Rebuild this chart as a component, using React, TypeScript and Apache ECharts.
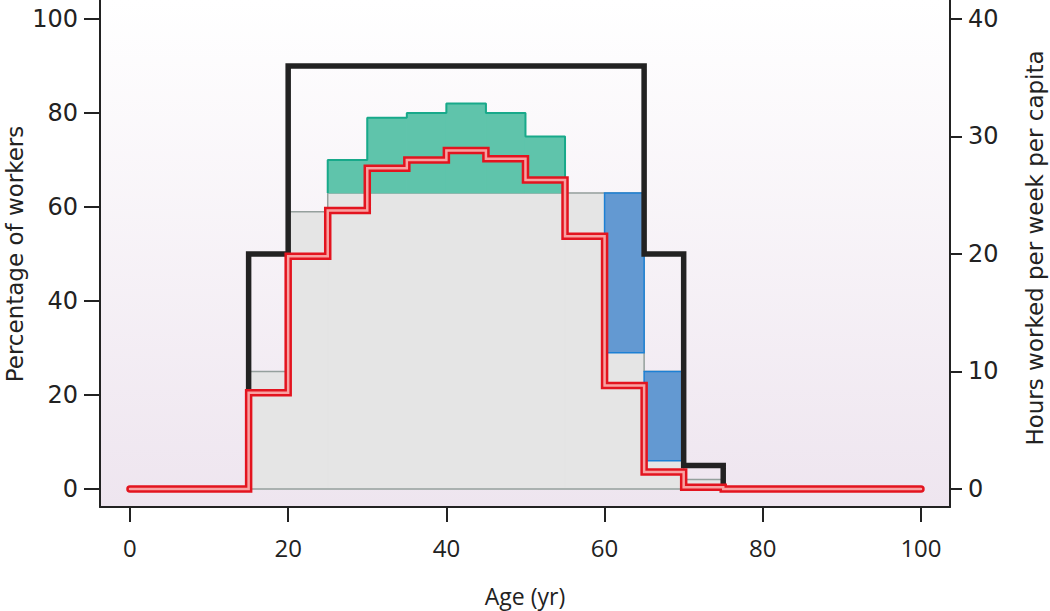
import React, { useEffect, useRef } from "react";
import * as echarts from "echarts";

// ---- data ----
const binEdges = [15, 20, 25, 30, 35, 40, 45, 50, 55, 60, 65, 70, 75];
// grey baseline (percentage of workers) per 5-year bin from 15 to 75
const greyTop = [25, 59, 63, 63, 63, 63, 63, 63, 63, 63, 25, 2];
// green band (increase) bins 25-55
const greenEdges = [25, 30, 35, 40, 45, 50, 55];
const greenBottom = 63;
const greenTop = [70, 79, 80, 82, 80, 75];
// blue band (reduction) bins
const blueEdges = [60, 65, 70];
const blueLow = [29, 6];
const blueHigh = [63, 25];
// black line: percentage of workers
const blackVals = [50, 90, 90, 90, 90, 90, 90, 90, 90, 90, 50, 5];
// red line: hours worked per week per capita, 5-year bins from 0 to 100
const redEdges = [0, 5, 10, 15, 20, 25, 30, 35, 40, 45, 50, 55, 60, 65, 70, 75, 80, 85, 90, 95, 100];
const redHours = [0, 0, 0, 8.2, 19.8, 23.7, 27.3, 28, 28.8, 28.1, 26.3, 21.5, 8.8, 1.45, 0.15, 0, 0, 0, 0, 0];
const xTicks = [0, 20, 40, 60, 80, 100];
const leftTicks = [0, 20, 40, 60, 80, 100];
const rightTicks = [0, 10, 20, 30, 40];

function stepPoints(edges: number[], vals: number[], startFromZero: boolean, endAtZero: boolean) {
  const pts: number[][] = [];
  if (startFromZero) pts.push([edges[0], 0]);
  for (let i = 0; i < vals.length; i++) {
    pts.push([edges[i], vals[i]]);
    pts.push([edges[i + 1], vals[i]]);
  }
  if (endAtZero) pts.push([edges[edges.length - 1], 0]);
  return pts;
}

function bandRenderer(fill: string, stroke: string, lw: number) {
  return (params: any, api: any) => {
    const p0 = api.coord([api.value(0), api.value(3)]);
    const p1 = api.coord([api.value(1), api.value(2)]);
    return {
      type: "rect",
      shape: { x: p0[0], y: p0[1], width: p1[0] - p0[0], height: p1[1] - p0[1] },
      style: { fill, stroke, lineWidth: lw },
    };
  };
}

export default function App() {
  const ref = useRef<HTMLDivElement>(null);
  useEffect(() => {
    if (!ref.current) return;
    const chart = echarts.init(ref.current, null, { renderer: "svg" });

    const greyRects = greyTop.map((v, i) => [binEdges[i], binEdges[i + 1], 0, v]);
    const greenRects = greenTop.map((v, i) => [greenEdges[i], greenEdges[i + 1], greenBottom, v]);
    const blueRects = blueLow.map((v, i) => [blueEdges[i], blueEdges[i + 1], v, blueHigh[i]]);

    const greyOutline = stepPoints(binEdges, greyTop, true, true);
    greyOutline.push([binEdges[0], 0]);
    const greenOutline = stepPoints(greenEdges, greenTop, false, false);
    greenOutline.unshift([greenEdges[0], greenBottom]);
    greenOutline.push([greenEdges[greenEdges.length - 1], greenBottom]);
    const blackLine = stepPoints(binEdges, blackVals, true, true);
    const redLine = stepPoints(redEdges, redHours, false, false);

    const wideFont = "'DejaVu Sans', 'Open Sans', sans-serif";
    const narrowFont = "'Open Sans', 'Noto Sans', sans-serif";
    const axisLine = { show: true, onZero: false, lineStyle: { color: "#222", width: 2 } };

    chart.setOption({
      animation: false,
      grid: {
        left: 100,
        right: 100,
        top: 0,
        bottom: 104,
        show: true,
        borderWidth: 0,
        backgroundColor: new echarts.graphic.LinearGradient(0, 0, 0, 1, [
          { offset: 0, color: "#ffffff" },
          { offset: 1, color: "#eee5ef" },
        ]),
      },
      xAxis: {
        type: "value",
        min: -3.79,
        max: 103.67,
        axisLine,
        axisTick: { show: true, length: 15, lineStyle: { color: "#222", width: 2 }, customValues: xTicks },
        axisLabel: { customValues: xTicks, fontSize: 24, color: "#222", margin: 28, fontFamily: narrowFont },
        splitLine: { show: false },
      },
      yAxis: [
        {
          type: "value",
          min: -3.83,
          max: 104.04,
          axisLine,
          axisTick: { show: true, length: 16, lineStyle: { color: "#222", width: 2 }, customValues: leftTicks },
          axisLabel: { customValues: leftTicks, fontSize: 24, color: "#222", margin: 22, fontFamily: wideFont },
          splitLine: { show: false },
        },
        {
          type: "value",
          position: "right",
          min: -3.83 / 2.5,
          max: 104.04 / 2.5,
          axisLine,
          axisTick: { show: true, length: 12, lineStyle: { color: "#222", width: 2 }, customValues: rightTicks },
          axisLabel: { customValues: rightTicks, fontSize: 24, color: "#222", margin: 18, fontFamily: wideFont },
          splitLine: { show: false },
        },
      ],
      graphic: [
        {
          type: "text",
          x: 15,
          y: 254,
          rotation: Math.PI / 2,
          style: {
            text: "Percentage of workers",
            fontSize: 23,
            fontFamily: wideFont,
            fill: "#222",
            textAlign: "center",
            textVerticalAlign: "middle",
          },
        },
        {
          type: "text",
          x: 1035,
          y: 248,
          rotation: Math.PI / 2,
          style: {
            text: "Hours worked per week per capita",
            fontSize: 23,
            fontFamily: wideFont,
            fill: "#222",
            textAlign: "center",
            textVerticalAlign: "middle",
          },
        },
        {
          type: "text",
          x: 525,
          y: 596,
          style: {
            text: "Age (yr)",
            fontSize: 23,
            fontFamily: narrowFont,
            fill: "#222",
            textAlign: "center",
            textVerticalAlign: "middle",
          },
        },
      ],
      series: [
        {
          type: "custom",
          name: "grey",
          z: 1,
          encode: { x: [0, 1], y: [2, 3] },
          renderItem: bandRenderer("#e5e5e5", "#e5e5e5", 1),
          data: greyRects,
        },
        {
          type: "line",
          name: "greyOutline",
          z: 2,
          symbol: "none",
          data: greyOutline,
          lineStyle: { color: "#95a09d", width: 1.5 },
        },
        {
          type: "custom",
          name: "green",
          z: 3,
          encode: { x: [0, 1], y: [2, 3] },
          renderItem: bandRenderer("#5fc4ab", "#5fc4ab", 1),
          data: greenRects,
        },
        {
          type: "line",
          name: "greenOutline",
          z: 4,
          symbol: "none",
          data: greenOutline,
          lineStyle: { color: "#18a98a", width: 2 },
        },
        {
          type: "custom",
          name: "blue",
          z: 5,
          encode: { x: [0, 1], y: [2, 3] },
          renderItem: bandRenderer("#6399d2", "#1c80d4", 1.5),
          data: blueRects,
        },
        {
          type: "line",
          name: "black",
          z: 6,
          symbol: "none",
          data: blackLine,
          lineStyle: { color: "#222222", width: 5.5, join: "miter" },
        },
        {
          type: "line",
          name: "redOuter",
          yAxisIndex: 1,
          z: 7,
          symbol: "none",
          data: redLine,
          lineStyle: { color: "#e3141f", width: 7.5, cap: "round", join: "miter" },
        },
        {
          type: "line",
          name: "redInner",
          yAxisIndex: 1,
          z: 8,
          symbol: "none",
          data: redLine,
          lineStyle: { color: "#f8a2a2", width: 2.5, cap: "round", join: "miter" },
        },
      ],
    });
    return () => chart.dispose();
  }, []);
  return <div ref={ref} style={{ width: 1050, height: 611, position: "absolute", left: 0, top: 0 }} />;
}
